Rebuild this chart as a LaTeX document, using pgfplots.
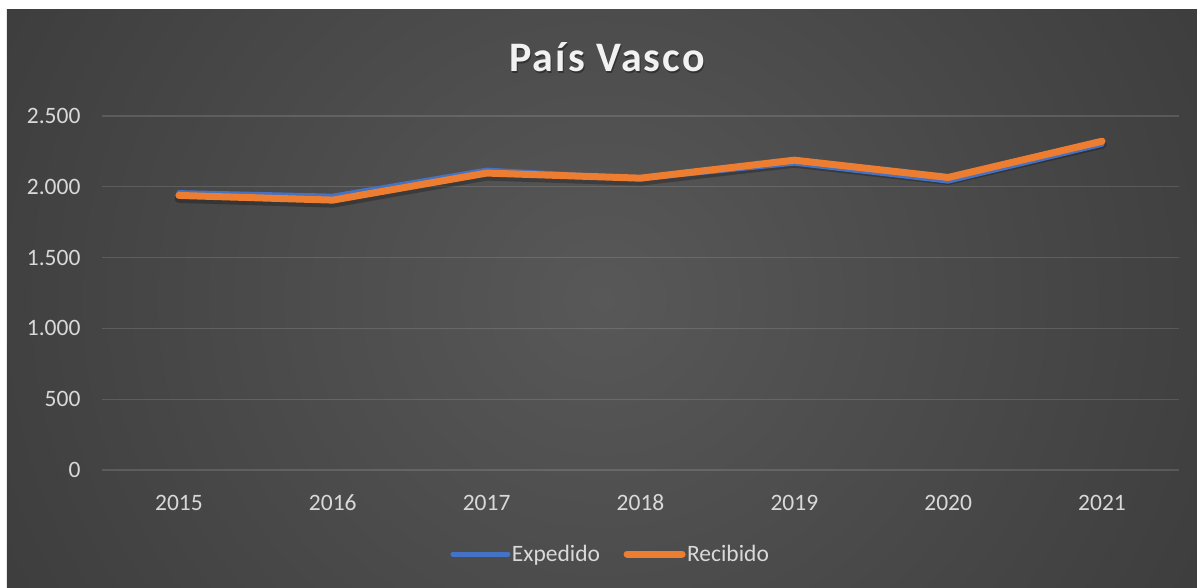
\documentclass[border=0pt]{standalone}
\usepackage{pgfplots}
\pgfplotsset{compat=1.18}
\usepackage{fontspec}
\setmainfont{Carlito}
\definecolor{bgin}{HTML}{585858}
\definecolor{bgout}{HTML}{242424}
\definecolor{expc}{HTML}{4472C4}
\definecolor{recc}{HTML}{ED7D31}
\definecolor{txt}{HTML}{D9D9D9}
\definecolor{ttl}{HTML}{F2F2F2}

\pgfplotstableread{
x y
0 1959
1 1934
2 2118
3 2058
4 2167
5 2040
6 2300
}\expedido
\pgfplotstableread{
x y
0 1939
1 1906
2 2097
3 2061
4 2188
5 2066
6 2322
}\recibido

\begin{document}
\begin{tikzpicture}[x=1pt,y=1pt]
\fill[white] (-102,-117) rectangle (1095,470);
\begin{scope}
\clip (-95,-117) rectangle (1095,460);
\shade[inner color=bgin, outer color=bgout] (500,171.5) ellipse [x radius=1320, y radius=1250];
\end{scope}
\node[anchor=base, text=black, opacity=0.35, font=\fontsize{42}{48}\selectfont\bfseries\addfontfeatures{LetterSpace=5}] at (506,396.8) {País Vasco};
\node[anchor=base, text=ttl, font=\fontsize{42}{48}\selectfont\bfseries\addfontfeatures{LetterSpace=5}] at (505,398.3) {País Vasco};
\begin{axis}[
  at={(0pt,0pt)}, anchor=south west,
  scale only axis, width=1077pt, height=354pt,
  xmin=-0.5, xmax=6.5, ymin=0, ymax=2500,
  xtick={0,1,2,3,4,5,6},
  xticklabels={2015,2016,2017,2018,2019,2020,2021},
  ytick={0,500,1000,1500,2000,2500},
  ymajorgrids,
  major grid style={white, opacity=0.13, line width=1.2pt},
  axis line style={draw=none},
  major tick length=0pt,
  tick label style={font=\fontsize{23.5}{28}\selectfont, text=txt},
  yticklabel style={xshift=-18pt},
  xticklabel style={anchor=base, yshift=-40pt},
  /pgf/number format/1000 sep={.},
  /pgf/number format/assume math mode=true,
  legend style={at={(0.4721,-0.2373)}, anchor=center, draw=none, fill=none,
    text=txt, font=\fontsize{23.5}{28}\selectfont,
    /tikz/every even column/.append style={column sep=22pt},
    nodes={inner sep=1.5pt}},
  legend columns=2,
  legend image code/.code={\draw[#1, line cap=round] (0pt,0pt) -- (55pt,0pt);},
  clip=false,
]
\addplot[black, opacity=0.25, line width=9pt, line join=round, line cap=round, yshift=-3pt, forget plot] table[x=x,y=y] {\recibido};
\addplot[expc, line width=5pt, line join=round, line cap=round] table[x=x,y=y] {\expedido};
\addplot[recc, line width=7pt, line join=round, line cap=round] table[x=x,y=y] {\recibido};
\legend{Expedido,Recibido}
\end{axis}
\end{tikzpicture}
\end{document}
